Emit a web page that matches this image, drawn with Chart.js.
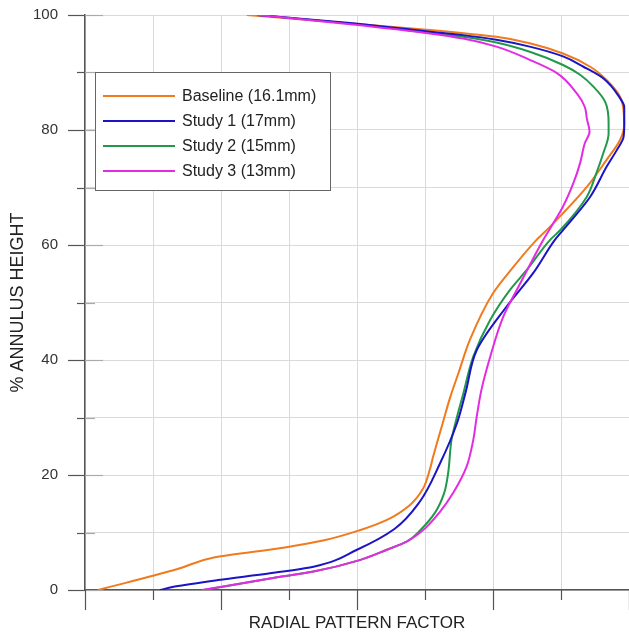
<!DOCTYPE html>
<html>
<head>
<meta charset="utf-8">
<script src="https://cdn.jsdelivr.net/npm/chart.js@4.4.1/dist/chart.umd.min.js"></script>
<style>
  html, body { margin: 0; padding: 0; background: #fff; }
</style>
</head>
<body>
<canvas id="rpfChart" width="629" height="634"></canvas>
<script>
// series labels + colours
const seriesNames = ['Baseline (16.1mm)', 'Study 1 (17mm)', 'Study 2 (15mm)', 'Study 3 (13mm)'];
const seriesColors = ['#F07A1E', '#1C14C4', '#22994A', '#E42BE4'];

// radial pattern factor (grid units, no labels on the original) vs % annulus height
const baselineRpf = [0.19, 1.35, 1.91, 2.94, 3.5, 4.04, 4.44, 4.78, 4.97, 5.07, 5.12, 5.26, 5.37, 5.5, 5.66, 6.0, 6.3, 6.64, 6.84, 7.38, 7.67, 7.87, 7.93, 7.88, 7.67, 7.43, 7.03, 6.54, 6.05, 5.07, 2.38];
const baselineHeight = [0, 3.6, 5.7, 7.4, 8.6, 10.4, 12.2, 14.8, 17.6, 20.9, 23.2, 29, 33.5, 38, 43.5, 51.6, 56.2, 60.9, 63.2, 70.1, 74.8, 78.3, 81, 85.5, 88.7, 91, 93.3, 95.1, 96.2, 97.4, 100];

const study1Rpf = [1.1, 1.32, 1.96, 2.72, 3.36, 4.0, 4.55, 4.92, 5.22, 5.47, 5.6, 5.76, 6.2, 6.59, 6.91, 7.03, 7.43, 7.67, 7.82, 7.92, 7.93, 7.93, 7.87, 7.62, 7.33, 7.03, 6.54, 6.05, 5.56, 5.07, 3.9, 2.54];
const study1Height = [0, 0.6, 1.74, 2.9, 4.06, 7.0, 10.6, 15.3, 22, 29, 34.5, 41.7, 49.3, 55.1, 60.9, 62.6, 68.4, 73.6, 76.5, 78.8, 81, 84, 85.5, 89, 91, 92.8, 94.5, 95.7, 96.5, 97.1, 98.6, 100];

const study2Rpf = [1.75, 2.72, 3.36, 4.04, 4.44, 4.73, 4.93, 5.15, 5.28, 5.34, 5.39, 5.47, 5.56, 5.71, 5.96, 6.25, 6.5, 6.84, 6.99, 7.38, 7.52, 7.62, 7.7, 7.7, 7.65, 7.48, 7.28, 7.03, 6.54, 6.05, 5.56, 5.07, 3.9, 2.54];
const study2Height = [0, 2.0, 3.2, 5.2, 7.0, 8.4, 10.4, 13.5, 16.8, 20.3, 26.1, 30.1, 34, 40.6, 47, 52.2, 55.7, 60.9, 62.6, 68.4, 72.5, 75.9, 79.4, 81.2, 84.9, 87.5, 89.6, 91.3, 93.6, 95.2, 96.2, 96.9, 98.5, 100];

const study3Rpf = [1.72, 2.72, 3.36, 4.04, 4.44, 4.73, 5.0, 5.22, 5.42, 5.61, 5.71, 5.76, 5.83, 5.96, 6.15, 6.4, 6.74, 7.03, 7.18, 7.28, 7.35, 7.42, 7.38, 7.35, 7.23, 6.94, 6.54, 6.05, 5.56, 5.07, 3.9, 2.54];
const study3Height = [0, 2.0, 3.2, 5.2, 7.0, 8.4, 10.7, 13.6, 17, 21.4, 26.1, 30.1, 34.8, 40.6, 47.5, 53.3, 60.9, 66.7, 70.7, 74.2, 77.7, 79.7, 82, 84, 86.4, 89.9, 92.2, 94.5, 95.9, 96.8, 98.4, 100];

const yTickValues = [0, 20, 40, 60, 80, 100];

const rpfSeries = [baselineRpf, study1Rpf, study2Rpf, study3Rpf];
const heightSeries = [baselineHeight, study1Height, study2Height, study3Height];
const drawOrder = [4, 2, 3, 1];

Chart.defaults.font.family = "'Liberation Sans', Arial, sans-serif";

const datasets = seriesNames.map((name, i) => ({
    label: name,
    data: rpfSeries[i].map((x, j) => ({ x: x, y: heightSeries[i][j] })),
    borderColor: seriesColors[i],
    backgroundColor: seriesColors[i],
    borderWidth: 2,
    pointRadius: 0,
    fill: false,
    cubicInterpolationMode: 'monotone',
    order: drawOrder[i]
}));

// tick marks that cross the axes, long on majors, short on minors
const axisTicks = {
    id: 'axisTicks',
    afterDraw(chart) {
        const c = chart.ctx;
        const xs = chart.scales.x;
        const ys = chart.scales.y;
        const x0 = xs.getPixelForValue(0);
        const y0 = ys.getPixelForValue(0);
        c.save();
        c.lineWidth = 1.2;
        for (let v = 0; v <= 100; v += 10) {
            const py = Math.round(ys.getPixelForValue(v)) + 0.5;
            const major = v % 20 === 0;
            c.strokeStyle = '#555';
            c.beginPath();
            c.moveTo(x0 - (major ? 17 : 8), py);
            c.lineTo(x0, py);
            c.stroke();
            c.strokeStyle = '#aaa';
            c.beginPath();
            c.moveTo(x0, py);
            c.lineTo(x0 + (major ? 18 : 10), py);
            c.stroke();
        }
        c.strokeStyle = '#555';
        for (let v = 0; v <= 8; v++) {
            const px = Math.round(xs.getPixelForValue(v)) + 0.5;
            c.beginPath();
            c.moveTo(px, y0);
            c.lineTo(px, y0 + (v % 2 === 0 ? 20 : 10));
            c.stroke();
        }
        c.restore();
    }
};

// boxed legend inside the plot, top left
const boxLegend = {
    id: 'boxLegend',
    afterDraw(chart) {
        const c = chart.ctx;
        c.save();
        c.fillStyle = '#fff';
        c.fillRect(95.5, 72.5, 235, 118);
        c.strokeStyle = '#666';
        c.lineWidth = 1;
        c.strokeRect(95.5, 72.5, 235, 118);
        c.font = "16px 'Liberation Sans', Arial, sans-serif";
        c.textBaseline = 'middle';
        chart.data.datasets.forEach((ds, i) => {
            const y = 96 + i * 25;
            c.strokeStyle = ds.borderColor;
            c.lineWidth = 2;
            c.beginPath();
            c.moveTo(103, y);
            c.lineTo(175, y);
            c.stroke();
            c.fillStyle = '#222';
            c.fillText(ds.label, 182, y + 1);
        });
        c.restore();
    }
};

const ctx = document.getElementById('rpfChart').getContext('2d');

new Chart(ctx, {
    type: 'line',
    data: { datasets: datasets },
    plugins: [axisTicks, boxLegend],
    options: {
        responsive: false,
        animation: false,
        indexAxis: 'y',
        layout: { padding: { top: 15, right: 0, bottom: 0, left: 0 } },
        plugins: {
            legend: { display: false },
            tooltip: { enabled: false }
        },
        scales: {
            x: {
                type: 'linear',
                min: 0,
                max: 8,
                ticks: { stepSize: 1, display: false },
                grid: { color: '#dadada', lineWidth: 1, drawTicks: false },
                border: { color: '#555', width: 1.5 },
                title: {
                    display: true,
                    text: 'RADIAL PATTERN FACTOR',
                    color: '#222',
                    font: { size: 17 },
                    padding: { top: 0, bottom: 0 }
                },
                afterFit: (scale) => { scale.height = 44; }
            },
            y: {
                type: 'linear',
                min: 0,
                max: 100,
                ticks: {
                    stepSize: 10,
                    padding: 0,
                    color: '#333',
                    font: { size: 15 },
                    callback: (v) => yTickValues.includes(v) ? v : ''
                },
                grid: { color: '#dadada', lineWidth: 1, drawTicks: true, tickLength: 27, tickColor: 'rgba(0,0,0,0)' },
                border: { color: '#555', width: 1.5 },
                title: {
                    display: true,
                    text: '% ANNULUS HEIGHT',
                    color: '#222',
                    font: { size: 18 },
                    padding: { top: 7, bottom: 7 }
                },
                afterFit: (scale) => { scale.width = 85; }
            }
        }
    }
});
</script>
</body>
</html>
